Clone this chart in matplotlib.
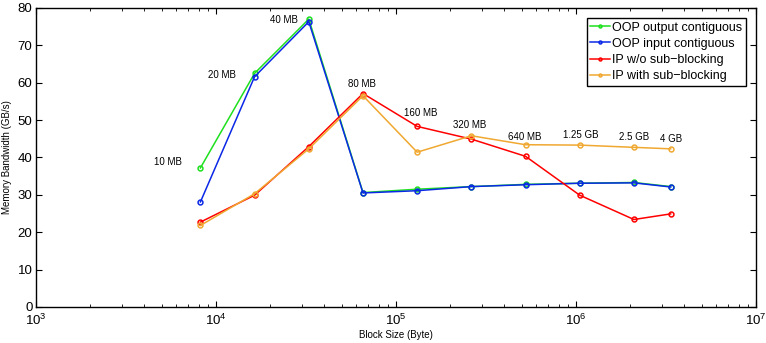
import matplotlib
matplotlib.use("Agg")
import matplotlib.pyplot as plt
from matplotlib.ticker import LogLocator, NullFormatter

plt.rcParams['font.family'] = ['Liberation Sans', 'DejaVu Sans']

block_size = [8192, 16384, 32768, 65536, 131072, 262144, 524288, 1048576, 2097152, 3355443]
oop_output = [37.2, 62.5, 77.0, 30.6, 31.5, 32.2, 32.8, 33.1, 33.3, 32.2]
oop_input = [28.1, 61.6, 76.3, 30.5, 31.1, 32.2, 32.7, 33.1, 33.2, 32.1]
ip_no_sub = [22.7, 29.9, 42.9, 57.1, 48.3, 44.9, 40.3, 29.9, 23.4, 24.9]
ip_sub = [21.8, 30.3, 42.3, 56.5, 41.4, 45.8, 43.4, 43.3, 42.7, 42.3]

size_labels = ["10 MB", "20 MB", "40 MB", "80 MB", "160 MB", "320 MB",
               "640 MB", "1.25 GB", "2.5 GB", "4 GB"]
label_x = [5410, 10800, 23700, 64700, 137000, 257000, 521000, 1057000, 2100000, 3370000]
label_y = [38.8, 62.0, 76.7, 59.7, 52.0, 48.7, 45.5, 46.0, 45.4, 44.8]

series = [
    ("OOP output contiguous", oop_output, "#1ee01e"),
    ("OOP input contiguous", oop_input, "#0a28e6"),
    ("IP w/o sub\u2212blocking", ip_no_sub, "#ff0000"),
    ("IP with sub\u2212blocking", ip_sub, "#f0a830"),
]

fig = plt.figure(figsize=(7.66, 3.43), dpi=100)
ax = fig.add_axes([0.047, 0.105, 0.940, 0.872])

for name, vals, col in series:
    ax.plot(block_size, vals, color=col, lw=1.1, marker='o', ms=3.5,
            mfc='none', mec=col, mew=1.1, label=name)

for t, x, y in zip(size_labels, label_x, label_y):
    ax.text(x, y, t, ha='center', va='center', fontsize=7)

ax.set_xscale('log')
ax.set_xlim(1e3, 1e7)
ax.set_ylim(0, 80)
ax.set_yticks(range(0, 81, 10))
ax.xaxis.set_major_locator(LogLocator(base=10, numticks=10))
ax.xaxis.set_minor_locator(LogLocator(base=10, subs=range(2, 10), numticks=100))
ax.xaxis.set_minor_formatter(NullFormatter())
ax.tick_params(which='both', direction='in', top=True, right=True, labelsize=9.5)
ax.tick_params(axis='x', which='major', pad=4.5)
ax.tick_params(axis='y', which='major', pad=2.5)
ax.tick_params(which='major', length=4, width=0.8)
ax.tick_params(which='minor', length=2.5, width=0.6)
for s in ax.spines.values():
    s.set_linewidth(1.0)

ax.set_xlabel("Block Size (Byte)", fontsize=7, labelpad=1)
ax.set_ylabel("Memory Bandwidth (GB/s)", fontsize=7)
ax.yaxis.set_label_coords(-0.034, 0.5)

leg = ax.legend(loc='upper right', fontsize=9, fancybox=False, framealpha=1,
                edgecolor='black', handlelength=1.6, handletextpad=0.15,
                borderpad=0.3, labelspacing=0.33, borderaxespad=0.8,
                markerscale=0.6)
leg.get_frame().set_linewidth(1.0)

fig.savefig("out.png", dpi=100)
